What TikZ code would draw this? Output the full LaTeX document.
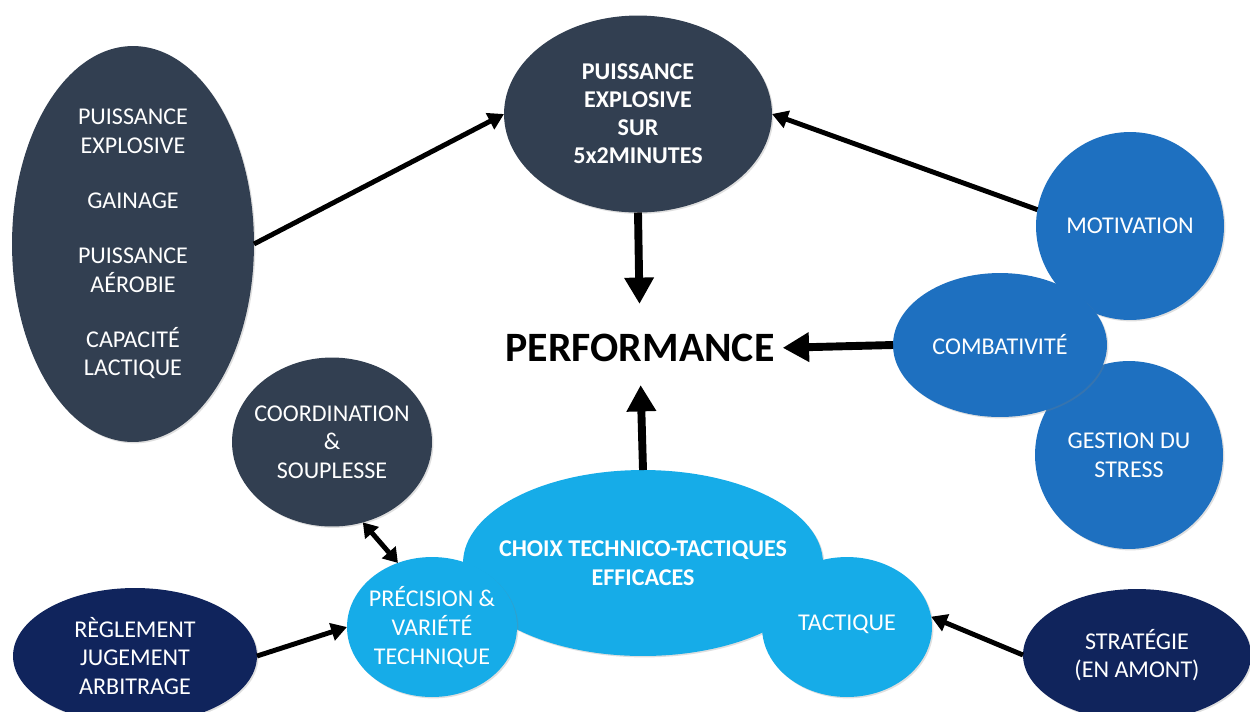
\documentclass[tikz,border=0pt]{standalone}
\usepackage{fontspec}
\setmainfont{Carlito}
\usetikzlibrary{arrows.meta,shapes.geometric,shadows}
\definecolor{slate}{RGB}{50,63,81}
\definecolor{royal}{RGB}{30,112,192}
\definecolor{sky}{RGB}{22,172,232}
\definecolor{navy}{RGB}{16,36,92}

\begin{document}
\begin{tikzpicture}[x=0.02cm,y=-0.02cm,
  bubble/.style={ellipse, inner sep=0pt, outer sep=0pt, text=white, align=center,
    font=\fontsize{13.7}{16.3}\selectfont,
    drop shadow={opacity=0.25, shadow xshift=0.8pt, shadow yshift=-0.8pt}},
  link/.style={line width=2.8pt, -{Triangle[length=9pt,width=10pt]}},
  bigarrow/.style={line width=4.5pt, -{Triangle[length=15pt,width=16pt]}}]
  \clip (0,0) rectangle (1250,711);
  \fill[white] (0,0) rectangle (1250,711);

  % physical qualities
  \node[bubble, fill=slate, minimum width=4.84cm, minimum height=7.92cm, inner ysep=-8pt] (phys) at (133,244)
    {PUISSANCE\\EXPLOSIVE\\[15pt]GAINAGE\\[15pt]PUISSANCE\\AÉROBIE\\[15pt]CAPACITÉ\\LACTIQUE};
  \node[bubble, fill=slate, minimum width=5.36cm, minimum height=3.94cm, font=\fontsize{13.7}{15.9}\selectfont\bfseries] (puis) at (638,114)
    {PUISSANCE\\EXPLOSIVE\\SUR\\5x2MINUTES};
  \node[bubble, fill=slate, minimum width=4.0cm, minimum height=3.38cm, inner xsep=-10pt] (coord) at (332,442)
    {COORDINATION\\\&\\SOUPLESSE};

  \node[font=\fontsize{23.8}{28}\selectfont\bfseries, inner sep=0pt] (perf) at (640,348) {PERFORMANCE};

  % mental side
  \node[bubble, fill=royal, minimum width=3.76cm, minimum height=3.76cm] (stress) at (1129,455) {GESTION DU\\STRESS};
  \node[bubble, fill=royal, minimum width=3.76cm, minimum height=3.76cm] (motiv) at (1130,226) {MOTIVATION};
  \node[bubble, fill=royal, minimum width=4.28cm, minimum height=2.88cm] (comb) at (1000,345) {COMBATIVITÉ};

  % technique and tactics
  \node[bubble, fill=sky, minimum width=7.2cm, minimum height=3.72cm, inner xsep=-12pt, font=\fontsize{13.7}{16.3}\selectfont\bfseries] (choix) at (643,563)
    {CHOIX TECHNICO-TACTIQUES\\EFFICACES};
  \node[bubble, fill=sky, minimum width=3.4cm, minimum height=2.8cm, inner xsep=-10pt] (prec) at (432,627)
    {PRÉCISION \&\\VARIÉTÉ\\TECHNIQUE};
  \node[bubble, fill=sky, minimum width=3.4cm, minimum height=2.8cm] (tact) at (847,627) {\raisebox{5pt}{TACTIQUE}};

  \node[bubble, fill=navy, minimum width=4.88cm, minimum height=2.72cm] (regl) at (135,656)
    {RÈGLEMENT\\JUGEMENT\\ARBITRAGE};
  \node[bubble, fill=navy, minimum width=4.56cm, minimum height=2.64cm] (strat) at (1137,655)
    {STRATÉGIE\\(EN AMONT)};

  % connectors
  \draw[link] (phys.east) -- (puis.west);
  \draw[link] (motiv.170) -- (puis.east);
  \draw[bigarrow, shorten >=17pt] (puis.south) -- (perf.north);
  \draw[bigarrow, shorten >=13pt] (choix.north) -- (perf.south);
  \draw[bigarrow, shorten >=4.5pt] (comb.west) -- (perf.east);
  \draw[line width=2.8pt, {Triangle[length=8pt,width=10pt]}-{Triangle[length=8pt,width=10pt]}] (coord.-69) -- (prec.118);
  \draw[link] (regl.east) -- (prec.west);
  \draw[link] (strat.west) -- (tact.7);
\end{tikzpicture}
\end{document}
